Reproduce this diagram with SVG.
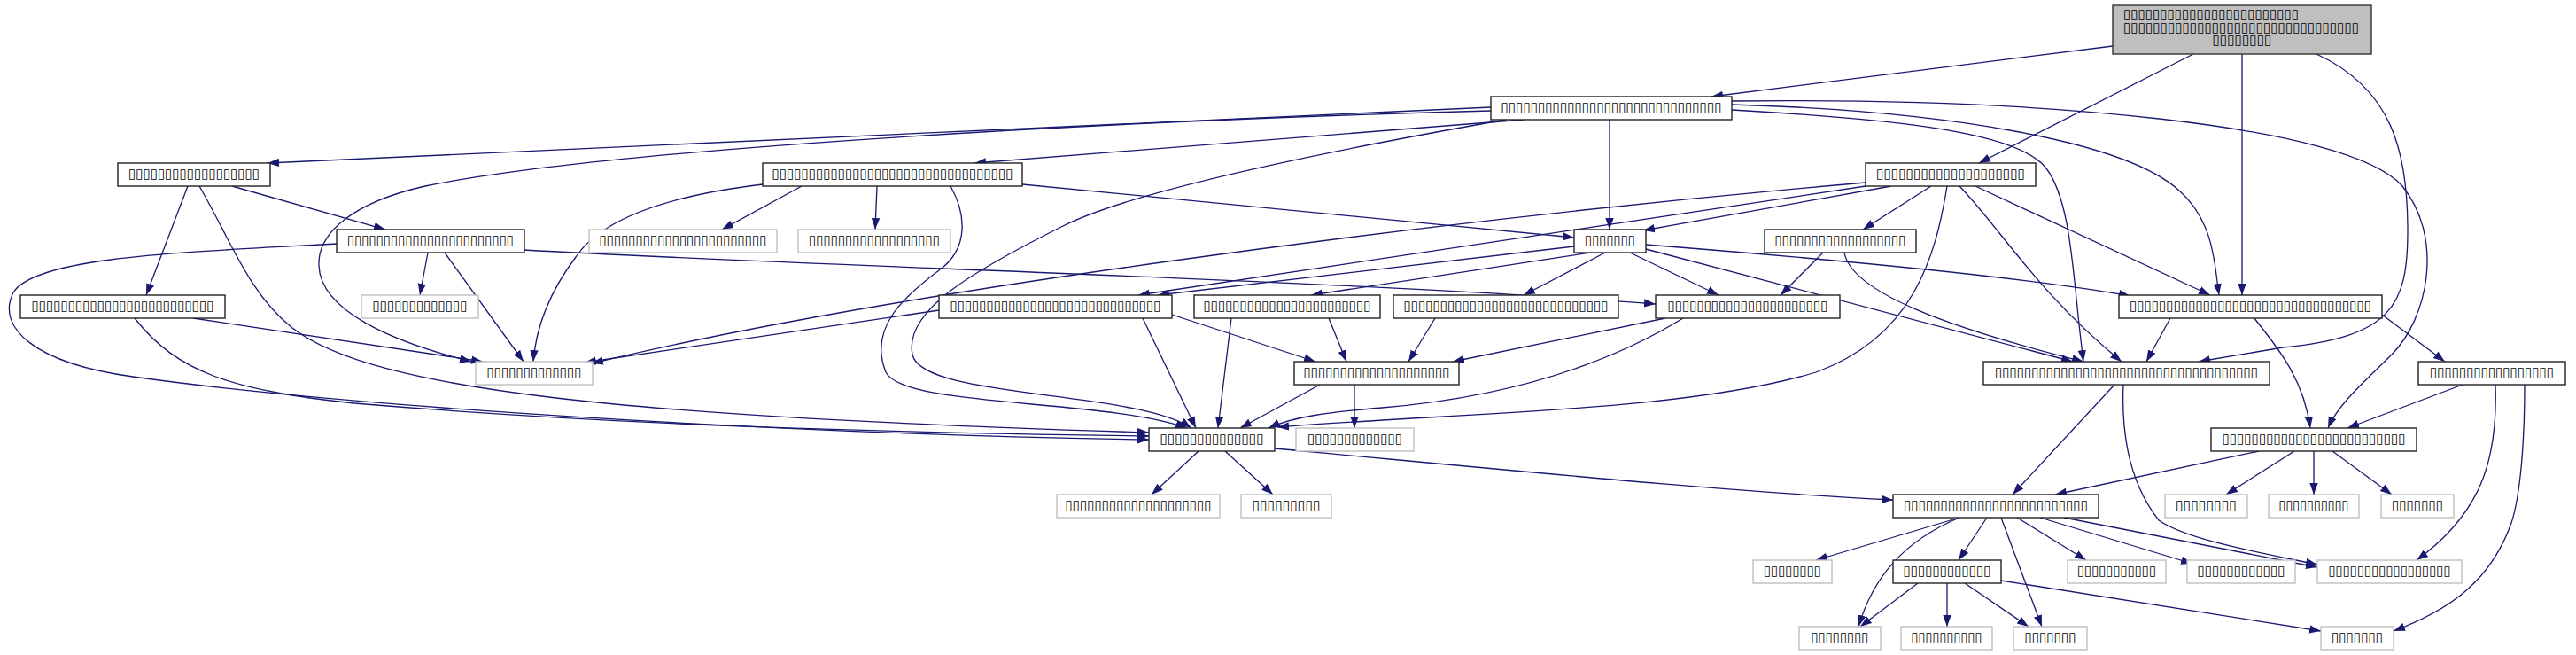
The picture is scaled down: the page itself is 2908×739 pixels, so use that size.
<svg xmlns="http://www.w3.org/2000/svg" width="2908" height="739" viewBox="0 0 2908 739">
<style>
.n rect{fill:#fff;stroke:#222;stroke-width:1.4}
.g rect{fill:#fff;stroke:#bfbfbf;stroke-width:1.4}
.top rect{fill:#bfbfbf;stroke:#333;stroke-width:1.4}
text{font-family:"DejaVu Sans",sans-serif;font-size:15px;fill:#000;text-anchor:middle}
text.l{text-anchor:start}
#edges path{fill:none;stroke:#191970;stroke-width:1.3;marker-end:url(#a)}
</style>
<defs>
<marker id="a" markerWidth="14" markerHeight="11" refX="13" refY="5" orient="auto" markerUnits="userSpaceOnUse">
<path d="M0,0.3 L13,5 L0,9.7 z" fill="#191970"/>
</marker>
</defs>
<rect width="2908" height="739" fill="#fff"/>
<g id="edges">
<path d="M2385,52 L1932,109"/>
<path d="M2476,61 L2234,184"/>
<path d="M2531,61 L2531,333"/>
<path d="M2615,61 C2700,100 2718,170 2718,260 C2718,345 2700,380 2577,392 L2482,408"/>
<path d="M1683,121 L302,184"/>
<path d="M1720,135 L1100,184"/>
<path d="M1817,135 L1817,259"/>
<path d="M1683,125 C1300,135 700,165 480,210 C400,228 358,262 360,300 C362,350 440,385 532,408"/>
<path d="M1700,135 C1500,170 1280,215 1200,255 C1100,305 1020,350 1030,400 C1040,450 1280,440 1345,483"/>
<path d="M1955,124 C2150,135 2280,150 2310,190 C2340,230 2340,320 2352,408"/>
<path d="M1955,118 C2200,125 2400,160 2460,215 C2500,250 2500,300 2505,333"/>
<path d="M1955,114 C2300,110 2650,140 2712,210 C2760,270 2740,360 2700,400 C2670,430 2640,455 2628,483"/>
<path d="M262,210 L435,259"/>
<path d="M212,210 L165,333"/>
<path d="M225,210 C260,270 280,330 330,370 C420,440 700,470 1297,488"/>
<path d="M152,359 C200,420 260,440 400,455 C700,480 1000,488 1297,492"/>
<path d="M380,275 C200,285 40,290 15,330 C-5,370 40,410 150,425 C400,460 900,490 1297,496"/>
<path d="M218,359 L545,408"/>
<path d="M483,285 L474,333"/>
<path d="M502,285 L591,408"/>
<path d="M592,282 C900,300 1500,315 1869,343"/>
<path d="M905,210 L815,259"/>
<path d="M990,210 L988,259"/>
<path d="M1154,208 L1777,268"/>
<path d="M861,208 C760,220 680,245 650,290 C620,330 605,370 602,408"/>
<path d="M1073,210 C1090,240 1095,280 1060,305 C1020,335 980,370 1000,420 C1020,460 1250,450 1340,483"/>
<path d="M2135,210 L1855,260"/>
<path d="M2106,210 L1285,333"/>
<path d="M2106,206 C1600,250 1000,330 668,410"/>
<path d="M2180,210 L2103,259"/>
<path d="M2198,210 C2185,290 2160,380 2050,420 C1900,465 1650,465 1442,482"/>
<path d="M2230,210 L2495,333"/>
<path d="M2212,210 C2260,260 2300,330 2395,408"/>
<path d="M1777,278 L1307,333"/>
<path d="M1795,285 L1480,333"/>
<path d="M1812,285 L1720,333"/>
<path d="M1840,285 L1940,333"/>
<path d="M1858,276 C2100,295 2300,315 2405,334"/>
<path d="M1858,281 L2340,408"/>
<path d="M2058,285 L2010,333"/>
<path d="M2082,285 C2090,330 2200,370 2352,408"/>
<path d="M1060,350 L660,409"/>
<path d="M1323,355 L1485,408"/>
<path d="M1290,359 L1350,483"/>
<path d="M1500,359 L1520,408"/>
<path d="M1390,359 L1375,483"/>
<path d="M1620,359 L1590,408"/>
<path d="M1880,359 L1640,408"/>
<path d="M1900,359 C1800,420 1680,450 1560,460 C1500,465 1460,470 1432,483"/>
<path d="M1490,434 L1400,483"/>
<path d="M1529,434 L1529,483"/>
<path d="M2689,355 L2760,408"/>
<path d="M2450,359 L2423,408"/>
<path d="M2545,359 C2560,380 2600,420 2608,483"/>
<path d="M2780,434 L2650,483"/>
<path d="M2817,434 C2820,520 2800,580 2728,632"/>
<path d="M2850,434 C2850,500 2845,560 2835,590 C2810,660 2760,690 2702,712"/>
<path d="M2387,434 L2272,558"/>
<path d="M2397,434 C2395,480 2400,540 2437,587 C2470,610 2560,625 2616,637"/>
<path d="M1353,509 L1300,558"/>
<path d="M1383,509 L1437,558"/>
<path d="M1439,506 C1700,530 1950,555 2137,564"/>
<path d="M2550,509 L2320,558"/>
<path d="M2590,509 L2513,558"/>
<path d="M2612,509 L2612,558"/>
<path d="M2633,509 L2700,558"/>
<path d="M2212,584 L2050,632"/>
<path d="M2212,584 C2150,610 2115,650 2098,707"/>
<path d="M2243,584 L2211,632"/>
<path d="M2259,584 L2305,707"/>
<path d="M2277,584 L2355,632"/>
<path d="M2303,584 L2475,636"/>
<path d="M2330,584 L2616,640"/>
<path d="M2165,658 L2100,707"/>
<path d="M2198,658 L2198,707"/>
<path d="M2218,658 L2290,707"/>
<path d="M2259,655 L2620,712"/>
</g>
<g id="nA" class="top"><rect x="2385" y="6" width="292" height="55"/>
<text class="l" x="2397" y="21" textLength="198" lengthAdjust="spacingAndGlyphs">▯▯▯▯▯▯▯▯▯▯▯▯▯▯▯▯▯▯▯▯▯▯▯▯</text>
<text class="l" x="2397" y="36" textLength="266" lengthAdjust="spacingAndGlyphs">▯▯▯▯▯▯▯▯▯▯▯▯▯▯▯▯▯▯▯▯▯▯▯▯▯▯▯▯▯▯▯▯</text>
<text x="2531" y="50" textLength="67" lengthAdjust="spacingAndGlyphs">▯▯▯▯▯▯▯▯</text></g>
<g id="nB" class="n"><rect x="1683" y="109" width="272" height="26"/><text x="1819" y="126" textLength="249" lengthAdjust="spacingAndGlyphs">▯▯▯▯▯▯▯▯▯▯▯▯▯▯▯▯▯▯▯▯▯▯▯▯▯▯▯▯▯▯</text></g>
<g id="nC" class="n"><rect x="133" y="184" width="172" height="26"/><text x="219" y="201" textLength="148" lengthAdjust="spacingAndGlyphs">▯▯▯▯▯▯▯▯▯▯▯▯▯▯▯▯▯▯</text></g>
<g id="nD" class="n"><rect x="861" y="184" width="293" height="26"/><text x="1007.5" y="201" textLength="272" lengthAdjust="spacingAndGlyphs">▯▯▯▯▯▯▯▯▯▯▯▯▯▯▯▯▯▯▯▯▯▯▯▯▯▯▯▯▯▯▯▯▯</text></g>
<g id="nE" class="n"><rect x="2106" y="184" width="192" height="26"/><text x="2202" y="201" textLength="168" lengthAdjust="spacingAndGlyphs">▯▯▯▯▯▯▯▯▯▯▯▯▯▯▯▯▯▯▯▯</text></g>
<g id="nF" class="n"><rect x="380" y="259" width="212" height="26"/><text x="486" y="276" textLength="188" lengthAdjust="spacingAndGlyphs">▯▯▯▯▯▯▯▯▯▯▯▯▯▯▯▯▯▯▯▯▯▯▯</text></g>
<g id="nG" class="g"><rect x="665" y="259" width="212" height="26"/><text x="771" y="276" textLength="189" lengthAdjust="spacingAndGlyphs">▯▯▯▯▯▯▯▯▯▯▯▯▯▯▯▯▯▯▯▯▯▯▯</text></g>
<g id="nH" class="g"><rect x="901" y="259" width="172" height="26"/><text x="987" y="276" textLength="148" lengthAdjust="spacingAndGlyphs">▯▯▯▯▯▯▯▯▯▯▯▯▯▯▯▯▯▯</text></g>
<g id="nI" class="n"><rect x="1777" y="259" width="81" height="26"/><text x="1817.5" y="276" textLength="57" lengthAdjust="spacingAndGlyphs">▯▯▯▯▯▯▯</text></g>
<g id="nJ" class="n"><rect x="1992" y="259" width="171" height="26"/><text x="2077.5" y="276" textLength="148" lengthAdjust="spacingAndGlyphs">▯▯▯▯▯▯▯▯▯▯▯▯▯▯▯▯▯▯</text></g>
<g id="nK" class="g"><rect x="408" y="333" width="132" height="26"/><text x="474" y="350" textLength="107" lengthAdjust="spacingAndGlyphs">▯▯▯▯▯▯▯▯▯▯▯▯▯</text></g>
<g id="nL" class="n"><rect x="23" y="333" width="231" height="26"/><text x="138.5" y="350" textLength="206" lengthAdjust="spacingAndGlyphs">▯▯▯▯▯▯▯▯▯▯▯▯▯▯▯▯▯▯▯▯▯▯▯▯▯</text></g>
<g id="nM" class="n"><rect x="1060" y="333" width="263" height="26"/><text x="1191.5" y="350" textLength="238" lengthAdjust="spacingAndGlyphs">▯▯▯▯▯▯▯▯▯▯▯▯▯▯▯▯▯▯▯▯▯▯▯▯▯▯▯▯▯</text></g>
<g id="nN" class="n"><rect x="1348" y="333" width="210" height="26"/><text x="1453" y="350" textLength="189" lengthAdjust="spacingAndGlyphs">▯▯▯▯▯▯▯▯▯▯▯▯▯▯▯▯▯▯▯▯▯▯▯</text></g>
<g id="nO" class="n"><rect x="1573" y="333" width="254" height="26"/><text x="1700" y="350" textLength="231" lengthAdjust="spacingAndGlyphs">▯▯▯▯▯▯▯▯▯▯▯▯▯▯▯▯▯▯▯▯▯▯▯▯▯▯▯▯</text></g>
<g id="nP" class="n"><rect x="1869" y="333" width="208" height="26"/><text x="1973" y="350" textLength="181" lengthAdjust="spacingAndGlyphs">▯▯▯▯▯▯▯▯▯▯▯▯▯▯▯▯▯▯▯▯▯▯</text></g>
<g id="nQ" class="n"><rect x="2392" y="333" width="297" height="26"/><text x="2540.5" y="350" textLength="273" lengthAdjust="spacingAndGlyphs">▯▯▯▯▯▯▯▯▯▯▯▯▯▯▯▯▯▯▯▯▯▯▯▯▯▯▯▯▯▯▯▯▯</text></g>
<g id="nR" class="g"><rect x="537" y="408" width="132" height="26"/><text x="603" y="425" textLength="107" lengthAdjust="spacingAndGlyphs">▯▯▯▯▯▯▯▯▯▯▯▯▯</text></g>
<g id="nS" class="n"><rect x="1461" y="408" width="186" height="26"/><text x="1554" y="425" textLength="165" lengthAdjust="spacingAndGlyphs">▯▯▯▯▯▯▯▯▯▯▯▯▯▯▯▯▯▯▯▯</text></g>
<g id="nT" class="n"><rect x="2239" y="408" width="323" height="26"/><text x="2400.5" y="425" textLength="297" lengthAdjust="spacingAndGlyphs">▯▯▯▯▯▯▯▯▯▯▯▯▯▯▯▯▯▯▯▯▯▯▯▯▯▯▯▯▯▯▯▯▯▯▯▯</text></g>
<g id="nU" class="n"><rect x="2730" y="408" width="166" height="26"/><text x="2813" y="425" textLength="140" lengthAdjust="spacingAndGlyphs">▯▯▯▯▯▯▯▯▯▯▯▯▯▯▯▯▯</text></g>
<g id="nV" class="n"><rect x="1297" y="483" width="142" height="26"/><text x="1368" y="500" textLength="117" lengthAdjust="spacingAndGlyphs">▯▯▯▯▯▯▯▯▯▯▯▯▯▯</text></g>
<g id="nW" class="g"><rect x="1463" y="483" width="133" height="26"/><text x="1529.5" y="500" textLength="107" lengthAdjust="spacingAndGlyphs">▯▯▯▯▯▯▯▯▯▯▯▯▯</text></g>
<g id="nX" class="n"><rect x="2496" y="483" width="232" height="26"/><text x="2612" y="500" textLength="207" lengthAdjust="spacingAndGlyphs">▯▯▯▯▯▯▯▯▯▯▯▯▯▯▯▯▯▯▯▯▯▯▯▯▯</text></g>
<g id="nY" class="g"><rect x="1193" y="558" width="184" height="26"/><text x="1285" y="575" textLength="165" lengthAdjust="spacingAndGlyphs">▯▯▯▯▯▯▯▯▯▯▯▯▯▯▯▯▯▯▯▯</text></g>
<g id="nZ" class="g"><rect x="1401" y="558" width="102" height="26"/><text x="1452" y="575" textLength="77" lengthAdjust="spacingAndGlyphs">▯▯▯▯▯▯▯▯▯</text></g>
<g id="nAA" class="n"><rect x="2137" y="558" width="232" height="26"/><text x="2253" y="575" textLength="208" lengthAdjust="spacingAndGlyphs">▯▯▯▯▯▯▯▯▯▯▯▯▯▯▯▯▯▯▯▯▯▯▯▯▯</text></g>
<g id="nX1" class="g"><rect x="2444" y="558" width="93" height="26"/><text x="2490.5" y="575" textLength="69" lengthAdjust="spacingAndGlyphs">▯▯▯▯▯▯▯▯</text></g>
<g id="nX2" class="g"><rect x="2561" y="558" width="102" height="26"/><text x="2612" y="575" textLength="79" lengthAdjust="spacingAndGlyphs">▯▯▯▯▯▯▯▯▯▯</text></g>
<g id="nX3" class="g"><rect x="2688" y="558" width="82" height="26"/><text x="2729" y="575" textLength="58" lengthAdjust="spacingAndGlyphs">▯▯▯▯▯▯▯</text></g>
<g id="nR8a" class="g"><rect x="1979" y="632" width="89" height="26"/><text x="2023.5" y="649" textLength="65" lengthAdjust="spacingAndGlyphs">▯▯▯▯▯▯▯▯</text></g>
<g id="nBB" class="n"><rect x="2137" y="632" width="122" height="26"/><text x="2198" y="649" textLength="99" lengthAdjust="spacingAndGlyphs">▯▯▯▯▯▯▯▯▯▯▯▯</text></g>
<g id="nR8c" class="g"><rect x="2334" y="632" width="111" height="26"/><text x="2389.5" y="649" textLength="89" lengthAdjust="spacingAndGlyphs">▯▯▯▯▯▯▯▯▯▯▯</text></g>
<g id="nR8d" class="g"><rect x="2469" y="632" width="122" height="26"/><text x="2530" y="649" textLength="99" lengthAdjust="spacingAndGlyphs">▯▯▯▯▯▯▯▯▯▯▯▯</text></g>
<g id="nR8e" class="g"><rect x="2616" y="632" width="163" height="26"/><text x="2697.5" y="649" textLength="138" lengthAdjust="spacingAndGlyphs">▯▯▯▯▯▯▯▯▯▯▯▯▯▯▯▯▯</text></g>
<g id="nR9a" class="g"><rect x="2031" y="707" width="92" height="26"/><text x="2077" y="724" textLength="65" lengthAdjust="spacingAndGlyphs">▯▯▯▯▯▯▯▯</text></g>
<g id="nR9b" class="g"><rect x="2146" y="707" width="103" height="26"/><text x="2197.5" y="724" textLength="80" lengthAdjust="spacingAndGlyphs">▯▯▯▯▯▯▯▯▯▯</text></g>
<g id="nR9c" class="g"><rect x="2273" y="707" width="83" height="26"/><text x="2314.5" y="724" textLength="58" lengthAdjust="spacingAndGlyphs">▯▯▯▯▯▯▯</text></g>
<g id="nR9d" class="g"><rect x="2620" y="707" width="82" height="26"/><text x="2661" y="724" textLength="58" lengthAdjust="spacingAndGlyphs">▯▯▯▯▯▯▯</text></g>
</svg>
